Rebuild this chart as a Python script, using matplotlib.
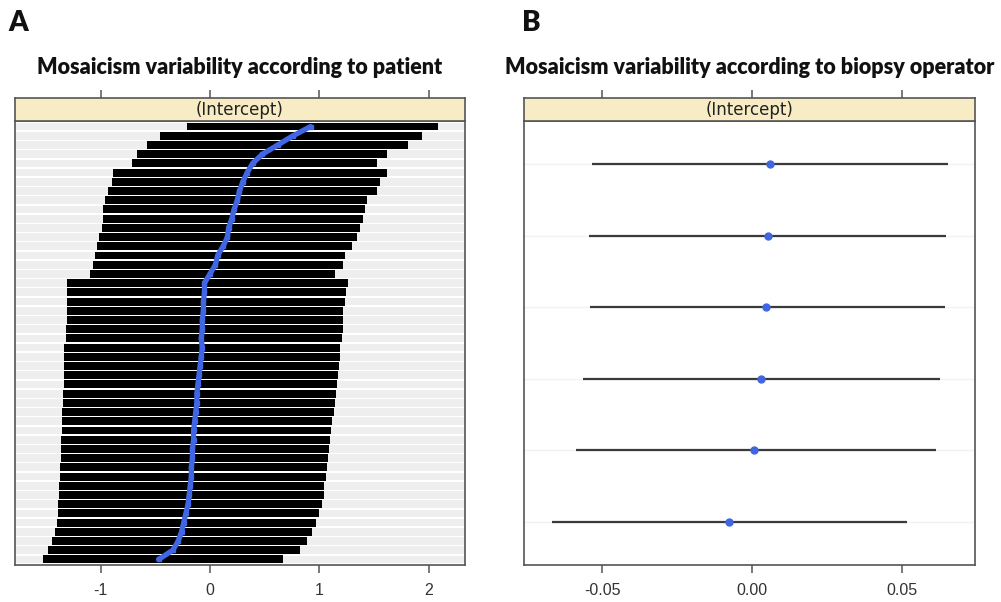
import numpy as np
import matplotlib.pyplot as plt

# Panel A: patient random intercepts, read top row to bottom row
pat_est = [0.92, 0.76, 0.62, 0.48, 0.39, 0.34, 0.30, 0.27, 0.25, 0.22, 0.20, 0.17,
           0.16, 0.12, 0.07, 0.05, 0.00, -0.05, -0.05, -0.06, -0.06, -0.07, -0.07, -0.08,
           -0.07, -0.08, -0.09, -0.10, -0.11, -0.12, -0.12, -0.13, -0.14, -0.15, -0.15, -0.16,
           -0.16, -0.17, -0.17, -0.18, -0.19, -0.20, -0.22, -0.24, -0.26, -0.29, -0.34, -0.47]
pat_low = [-0.21, -0.46, -0.58, -0.67, -0.71, -0.89, -0.90, -0.93, -0.96, -0.98, -0.98, -0.99,
           -1.01, -1.03, -1.05, -1.07, -1.10, -1.31, -1.31, -1.31, -1.31, -1.31, -1.32, -1.32,
           -1.33, -1.33, -1.33, -1.33, -1.33, -1.34, -1.34, -1.35, -1.35, -1.35, -1.36, -1.36,
           -1.36, -1.37, -1.37, -1.38, -1.38, -1.39, -1.39, -1.40, -1.42, -1.44, -1.48, -1.53]
pat_high = [2.08, 1.94, 1.81, 1.62, 1.53, 1.62, 1.55, 1.53, 1.44, 1.42, 1.40, 1.37,
            1.34, 1.30, 1.23, 1.22, 1.14, 1.26, 1.24, 1.23, 1.22, 1.22, 1.22, 1.21,
            1.19, 1.19, 1.18, 1.17, 1.16, 1.15, 1.14, 1.13, 1.12, 1.11, 1.10, 1.09,
            1.08, 1.07, 1.06, 1.04, 1.04, 1.02, 1.00, 0.97, 0.93, 0.89, 0.82, 0.67]

# Panel B: biopsy operator random intercepts, top to bottom
op_est = [0.0059, 0.0051, 0.0046, 0.0029, 0.0006, -0.0077]
op_low = [-0.0535, -0.0543, -0.0540, -0.0564, -0.0588, -0.0669]
op_high = [0.0653, 0.0646, 0.0642, 0.0626, 0.0612, 0.0517]

pat_ticks = [-1, 0, 1, 2]
op_ticks = [-0.05, 0.0, 0.05]
op_ticklabels = ['-0.05', '0.00', '0.05']

blue = '#4166e4'
edge = '#555555'
strip_col = '#f8ecc4'

fig = plt.figure(figsize=(10.01, 6.02), dpi=100)


def make_panel(x0, w, xlim, ticks, ticklabels, title, letter, letter_x):
    ax = fig.add_axes([x0, 0.0615, w, 0.7375])
    st = fig.add_axes([x0, 0.799, w, 0.039])
    for a in (ax, st):
        a.set_xlim(*xlim)
        for s in a.spines.values():
            s.set_color(edge)
            s.set_linewidth(1.2)
    ax.set_yticks([])
    ax.set_xticks(ticks)
    ax.set_xticklabels(ticklabels, fontsize=11.5, color='#333333', family='Liberation Sans')
    ax.tick_params(axis='x', direction='out', length=6, width=1.1, color=edge, pad=7)
    st.set_facecolor(strip_col)
    st.set_yticks([])
    st.set_xticks(ticks)
    st.tick_params(axis='x', bottom=False, labelbottom=False, top=True,
                   direction='out', length=6, width=1.1, color=edge)
    st.text(0.5, 0.45, '(Intercept)', transform=st.transAxes, ha='center', va='center',
            fontsize=12, color='#222222', family='Liberation Sans Narrow')
    cx = x0 + w / 2
    fig.text(cx, 0.888, title, ha='center', va='center', fontsize=15.5,
             fontweight='heavy', family='Lato', color='#111111')
    fig.text(letter_x, 0.962, letter, ha='left', va='center', fontsize=20,
             fontweight='heavy', family='Lato', color='#111111')
    return ax


# Panel A
axA = make_panel(0.015, 0.4495, (-1.782, 2.331), pat_ticks, [str(t) for t in pat_ticks],
                 'Mosaicism variability according to patient', 'A', 0.008)
n = len(pat_est)
yA = n - np.arange(n)
est = np.array(pat_est)
low = np.array(pat_low)
high = np.array(pat_high)
axA.barh(yA, 2.331 + 1.782, left=-1.782, height=0.84, color='#eeeeee', linewidth=0)
axA.barh(yA, high - low, left=low, height=0.86, color='black', linewidth=0)
axA.plot(est, yA, color=blue, lw=3.8, solid_capstyle='round')
axA.plot(est, yA, 's', color=blue, ms=3.5)
axA.set_ylim(0.4, n + 0.6)

# Panel B
axB = make_panel(0.5235, 0.4505, (-0.0761, 0.0742), op_ticks, op_ticklabels,
                 'Mosaicism variability according to biopsy operator', 'B', 0.521)
m = len(op_est)
yB = m - np.arange(m)
for yy in yB:
    axB.axhline(yy, color='#f2f2f2', lw=1)
axB.hlines(yB, op_low, op_high, color='#3a3a3a', lw=1.6)
axB.plot(op_est, yB, 'o', color=blue, ms=5)
axB.set_ylim(0.4, m + 0.6)

fig.savefig('out.png', dpi=100)
